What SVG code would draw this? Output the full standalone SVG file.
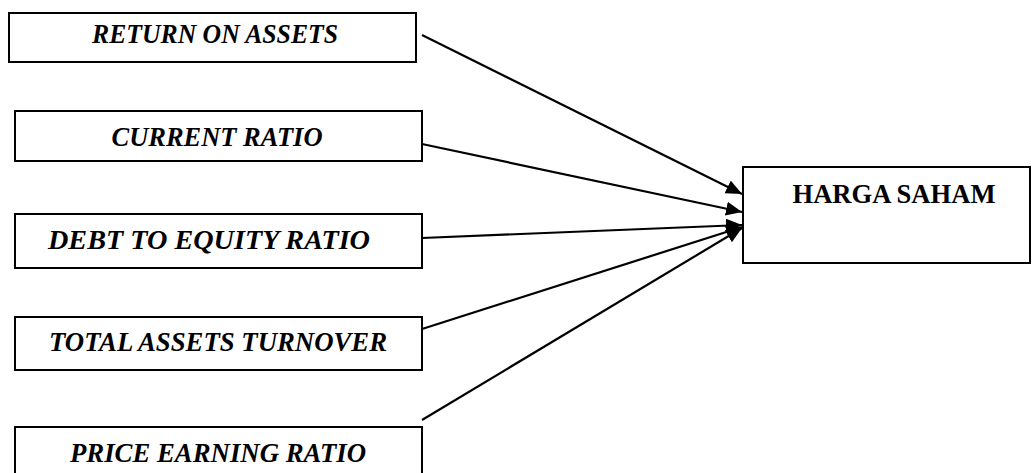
<svg xmlns="http://www.w3.org/2000/svg" width="1033" height="473" viewBox="0 0 1033 473">
<style>
.box{fill:#fff;stroke:#000;stroke-width:2}
.lbl{font-family:"Liberation Serif","Times New Roman",serif;font-weight:bold;font-style:italic;font-size:27px;fill:#000;text-anchor:middle}
.lbl2{font-family:"Liberation Serif","Times New Roman",serif;font-weight:bold;font-size:27px;fill:#000;text-anchor:middle}
.conn{stroke:#000;stroke-width:2.2;fill:none;marker-end:url(#ah)}
</style>
<defs>
<marker id="ah" markerUnits="userSpaceOnUse" markerWidth="18" markerHeight="16" refX="16" refY="7" orient="auto">
<path d="M0,0 L16,7 L0,14 Z" fill="#000"/>
</marker>
</defs>
<rect width="1033" height="473" fill="#fff"/>
<g id="connectors">
<line class="conn" x1="422" y1="35" x2="742" y2="194"/>
<line class="conn" x1="422" y1="144" x2="742" y2="212"/>
<line class="conn" x1="422" y1="238" x2="742" y2="225"/>
<line class="conn" x1="422" y1="329" x2="742" y2="227"/>
<line class="conn" x1="422" y1="420" x2="742" y2="228"/>
</g>
<g id="roa">
<rect class="box" x="9" y="13" width="407" height="49"/>
<text class="lbl" x="215" y="43" textLength="246" lengthAdjust="spacingAndGlyphs">RETURN ON ASSETS</text>
</g>
<g id="cr">
<rect class="box" x="15" y="111" width="407" height="50"/>
<text class="lbl" x="217" y="146" textLength="211" lengthAdjust="spacingAndGlyphs">CURRENT RATIO</text>
</g>
<g id="der">
<rect class="box" x="15" y="214" width="407" height="54"/>
<text class="lbl" x="209" y="249" textLength="322" lengthAdjust="spacingAndGlyphs">DEBT TO EQUITY RATIO</text>
</g>
<g id="tato">
<rect class="box" x="15" y="317" width="407" height="53"/>
<text class="lbl" x="218" y="351" textLength="338" lengthAdjust="spacingAndGlyphs">TOTAL ASSETS TURNOVER</text>
</g>
<g id="per">
<rect class="box" x="15" y="427" width="407" height="52"/>
<text class="lbl" x="218" y="462" textLength="296" lengthAdjust="spacingAndGlyphs">PRICE EARNING RATIO</text>
</g>
<g id="harga">
<rect class="box" x="743" y="167" width="287" height="96"/>
<text class="lbl2" x="894" y="203" textLength="203" lengthAdjust="spacingAndGlyphs">HARGA SAHAM</text>
</g>
</svg>
